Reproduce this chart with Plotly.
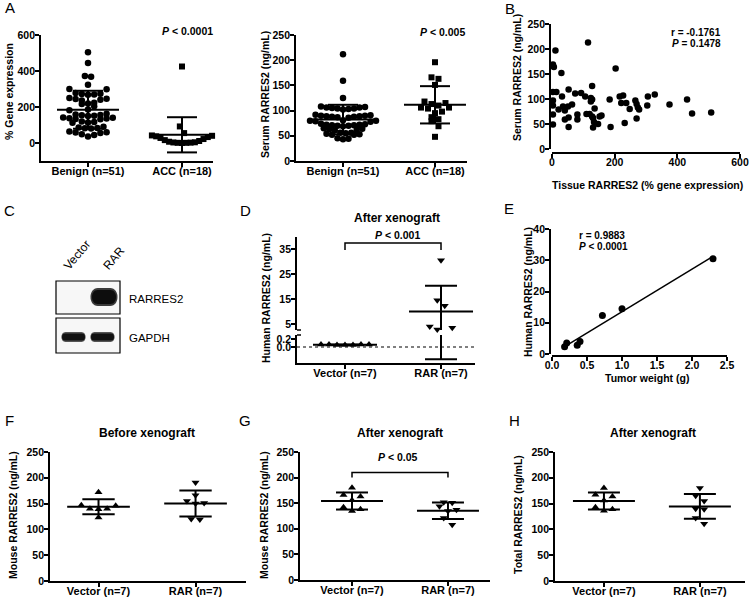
import numpy as np
import plotly.graph_objects as go

W, H = 750, 598
FONT = "Liberation Sans, Arial, sans-serif"

# ---------------- data ----------------
groups_A = ["Benign (n=51)", "ACC (n=18)"]
tissue_benign = [504, 444, 372, 368, 324, 300, 298,
                 278, 274, 272, 270, 268,
                 250, 246, 244, 240, 236,
                 224, 220, 216, 204, 186, 182,
                 162, 158, 156, 154, 152, 150,
                 142, 140, 138, 136, 134, 132,
                 120, 116, 114, 112,
                 90, 86, 84, 82, 80,
                 64, 60, 58, 56, 48, 44, 36]
tissue_acc = [425, 92, 55, 42, 40, 37, 33, 28, 22, 16, 11, 7, 4, 3, 2, 1, 1, 0]
serum_benign = [212, 159, 125,
                108, 107, 106, 106, 105, 104, 104, 103, 102,
                92, 91, 90, 90, 89, 89, 88, 88, 87, 86,
                81, 80, 80, 79, 78,
                74, 73, 72, 72, 71, 71, 70, 70, 69,
                65, 64, 63, 62, 61,
                56, 56, 55, 54, 53, 52, 52,
                45, 44, 43]
serum_acc = [196, 166, 163, 151, 118, 115, 113, 110, 106, 106, 104, 98, 95, 87, 83, 79, 69, 48]

b_tissue = [115, 11, 3, 6, 30, 203, 3, 14, 53, 32, 3, 3, 74, 93, 106, 124, 128, 124,
            128, 35, 51, 64, 21, 3, 3, 53, 81, 81, 110, 120, 128, 136, 131, 134, 152, 158,
            147, 131, 53, 184, 187, 216, 227, 221, 237, 232, 248, 266, 270, 274, 278, 270,
            304, 306, 328, 375, 431, 447, 508, 41, 41]
b_serum = [213, 197, 169, 164, 152, 161, 114, 114, 119, 105, 97, 87, 111, 112, 105, 102, 99, 95,
           126, 85, 85, 89, 79, 69, 49, 63, 69, 59, 70, 70, 65, 81, 62, 54, 65, 67,
           50, 43, 44, 99, 44, 105, 107, 92, 92, 52, 80, 97, 90, 83, 79, 61, 87, 105,
           109, 89, 99, 71, 73, 77, 59]

xeno_groups = ["Vector (n=7)", "RAR (n=7)"]
d_vector = [0.05, 0.06, 0.06, 0.05, 0.06, 0.05, 0.06]
d_rar = [30.5, 14.5, 12.3, 4.0, 3.5, 2.8, 2.3]
tumor_weight = [2.30, 1.00, 0.72, 0.40, 0.21, 0.36, 0.18]

f_vector = [172, 146, 140, 140, 139, 147, 123]
f_rar = [191, 166, 151, 150, 155, 120, 119]
g_vector = [180, 163, 166, 156, 142, 138, 135]
g_rar = [152, 151, 144, 137, 135, 121, 108]
h_vector = [180, 164, 167, 156, 143, 139, 136]
h_rar = [180, 165, 155, 140, 139, 122, 111]

# ---------------- helpers ----------------
def xd(a, b):
    return [a / W, b / W]

def yd(top, bottom):
    return [1 - bottom / H, 1 - top / H]

def PX(x):
    return x / W

def PY(y):
    return 1 - y / H

def rows(values, bin_units, s_px, xppu):
    """GraphPad-like scatter-dot layout: points within a value bin share a row,
    spread symmetrically from the centre (lowest value first)."""
    vals = np.asarray(values, float)
    order = np.argsort(vals, kind="stable")
    offs = np.zeros(len(vals))
    groups, cur, start = [], [], None
    for i in order:
        if cur and vals[i] - start >= bin_units:
            groups.append(cur)
            cur = []
        if not cur:
            start = vals[i]
        cur.append(i)
    if cur:
        groups.append(cur)
    for g in groups:
        n = len(g)
        if n % 2:
            slots = [0] + [s for k in range(1, n // 2 + 1) for s in (k, -k)]
        else:
            slots = [s for k in range(n // 2) for s in (k + 0.5, -(k + 0.5))]
        for i, sl in zip(g, slots):
            offs[i] = sl * s_px / xppu
    return offs

BOLD = dict(family=FONT, size=10.5, color="black", weight="bold")

fig = go.Figure()

def dots(xa, ya, cx, vals, xppu, symbol, size, bin_units, s_px):
    offs = rows(vals, bin_units, s_px, xppu)
    fig.add_trace(go.Scatter(x=cx + offs, y=vals, mode="markers", xaxis=xa, yaxis=ya,
                             marker=dict(symbol=symbol, size=size, color="black",
                                         line=dict(width=0)),
                             cliponaxis=False, hoverinfo="skip"))

def errbar(xa, ya, cx, vals, xppu, hm_px=31, hc_px=16):
    v = np.asarray(vals, float)
    m, s = v.mean(), v.std(ddof=1)
    hm, hc = hm_px / xppu, hc_px / xppu
    xs = [cx - hm, cx + hm, None, cx, cx, None, cx - hc, cx + hc, None, cx - hc, cx + hc]
    ys = [m, m, None, m - s, m + s, None, m + s, m + s, None, m - s, m - s]
    fig.add_trace(go.Scatter(x=xs, y=ys, mode="lines", xaxis=xa, yaxis=ya,
                             line=dict(color="black", width=2), cliponaxis=False,
                             hoverinfo="skip"))

def ann(text, x, y, size=10.5, bold=True, xanchor="center", yanchor="middle", angle=0):
    f = dict(family=FONT, size=size, color="black")
    if bold:
        f["weight"] = "bold"
    fig.add_annotation(text=text, x=PX(x), y=PY(y), xref="paper", yref="paper",
                       showarrow=False, font=f, xanchor=xanchor, yanchor=yanchor,
                       textangle=angle)

def axis_common(**kw):
    base = dict(showline=True, linecolor="black", linewidth=1.8, ticks="outside",
                ticklen=4, tickwidth=1.8, tickcolor="black", showgrid=False,
                zeroline=False, tickfont=BOLD, fixedrange=True, automargin=False)
    base.update(kw)
    return base

def xax(**kw):
    return axis_common(ticklabelstandoff=-5, **kw)

def yax(**kw):
    return axis_common(ticklabelstandoff=-2, **kw)

layout = {}

# ---- Panel A left ----
xppu_A1 = 94
layout["xaxis"] = xax(domain=xd(41, 213), range=[-0.5, 1.33], anchor="y",
                      tickvals=[0, 1], ticktext=groups_A, tickfont=dict(BOLD, size=11))
layout["yaxis"] = yax(domain=yd(35, 161), range=[-100, 600], anchor="x",
                      tickvals=[0, 200, 400, 600])
dots("x", "y", 0, tissue_benign, xppu_A1, "circle", 6.5, 33, 6.2)
dots("x", "y", 1, tissue_acc, xppu_A1, "square", 6, 45, 4.3)
errbar("x", "y", 0, tissue_benign, xppu_A1, 31, 15)
errbar("x", "y", 1, tissue_acc, xppu_A1, 31, 15)

# ---- Panel A right ----
xppu_A2 = 92
layout["xaxis2"] = xax(domain=xd(296, 467), range=[-0.511, 1.348], anchor="y2",
                       tickvals=[0, 1], ticktext=groups_A, tickfont=dict(BOLD, size=11))
layout["yaxis2"] = yax(domain=yd(35, 161), range=[0, 250], anchor="x2",
                       tickvals=[0, 50, 100, 150, 200, 250])
dots("x2", "y2", 0, serum_benign, xppu_A2, "circle", 6.5, 12, 5.5)
dots("x2", "y2", 1, serum_acc, xppu_A2, "square", 6, 12, 7)
errbar("x2", "y2", 0, serum_benign, xppu_A2, 31, 15)
errbar("x2", "y2", 1, serum_acc, xppu_A2, 31, 15)

# ---- Panel B ----
layout["xaxis3"] = xax(domain=xd(552, 740), range=[0, 600], anchor="free",
                       position=PY(153), tickvals=[0, 200, 400, 600])
layout["yaxis3"] = yax(domain=yd(24, 149), range=[0, 250], anchor="free",
                       position=PX(550), tickvals=[0, 50, 100, 150, 200, 250])
fig.add_trace(go.Scatter(x=b_tissue, y=b_serum, mode="markers", xaxis="x3", yaxis="y3",
                         marker=dict(size=6.5, color="black"), cliponaxis=False,
                         hoverinfo="skip"))

# ---- Panel D (broken axis) ----
xppu_D = 96
layout["xaxis4"] = xax(domain=xd(297, 475), range=[-0.5, 1.354], anchor="y5",
                       tickvals=[0, 1], ticktext=xeno_groups, tickfont=dict(BOLD, size=11))
layout["yaxis4"] = yax(domain=yd(237, 330), range=[2.6, 39.8], anchor="x4",
                       tickvals=[5, 15, 25, 35])
layout["yaxis5"] = yax(domain=yd(335, 363), range=[-0.4, 0.3], anchor="x4",
                       tickvals=[0.0, 0.2], tickformat=".1f")
fig.add_trace(go.Scatter(x=[-0.5, 1.354], y=[0, 0], mode="lines", xaxis="x4", yaxis="y5",
                         line=dict(color="black", width=1.2, dash="dot"), hoverinfo="skip"))
dots("x4", "y5", 0, d_vector, xppu_D, "triangle-up", 7, 0.1, 8)
errbar("x4", "y5", 0, d_vector, xppu_D, 32, 16)
dots("x4", "y4", 1, d_rar, xppu_D, "triangle-down", 7, 2.8, 7.5)
rv = np.asarray(d_rar, float)
rm, rs = rv.mean(), rv.std(ddof=1)
hm, hc = 32 / xppu_D, 16 / xppu_D
fig.add_trace(go.Scatter(x=[1 - hm, 1 + hm, None, 1, 1, None, 1 - hc, 1 + hc],
                         y=[rm, rm, None, 2.6, rm + rs, None, rm + rs, rm + rs],
                         mode="lines", xaxis="x4", yaxis="y4", cliponaxis=False,
                         line=dict(color="black", width=2), hoverinfo="skip"))
fig.add_trace(go.Scatter(x=[1, 1, None, 1 - hc, 1 + hc],
                         y=[0.3, rm - rs, None, rm - rs, rm - rs],
                         mode="lines", xaxis="x4", yaxis="y5", cliponaxis=False,
                         line=dict(color="black", width=2), hoverinfo="skip"))
fig.add_trace(go.Scatter(x=[0, 0, 1, 1], y=[34.6, 37.4, 37.4, 34.6], mode="lines",
                         xaxis="x4", yaxis="y4", line=dict(color="black", width=1.5),
                         cliponaxis=False, hoverinfo="skip"))

# ---- Panel E ----
layout["xaxis6"] = xax(domain=xd(552, 727), range=[0, 2.5], anchor="free",
                       position=PY(356), tickvals=[0, 0.5, 1.0, 1.5, 2.0, 2.5],
                       tickformat=".1f")
layout["yaxis6"] = yax(domain=yd(229, 354), range=[0, 40], anchor="free",
                       position=PX(550), tickvals=[0, 10, 20, 30, 40])
tw = np.asarray(tumor_weight)
hr = np.asarray(d_rar)
k, b0 = np.polyfit(tw, hr, 1)
xl = np.array([tw.min(), tw.max()])
fig.add_trace(go.Scatter(x=xl, y=k * xl + b0, mode="lines", xaxis="x6", yaxis="y6",
                         line=dict(color="black", width=1.5), hoverinfo="skip"))
fig.add_trace(go.Scatter(x=tumor_weight, y=d_rar, mode="markers", xaxis="x6", yaxis="y6",
                         marker=dict(size=7, color="black"), cliponaxis=False,
                         hoverinfo="skip"))

# ---- Panels F, G, H ----
def xeno_panel(n, xdom, xr, ydom, vec, rar):
    xa, ya = f"x{n}", f"y{n}"
    layout[f"xaxis{n}"] = xax(domain=xd(*xdom), range=xr, anchor=ya,
                              tickvals=[0, 1], ticktext=xeno_groups,
                              tickfont=dict(BOLD, size=11))
    layout[f"yaxis{n}"] = yax(domain=yd(*ydom), range=[0, 250], anchor=xa,
                              tickvals=[0, 50, 100, 150, 200, 250])
    dots(xa, ya, 0, vec, 96, "triangle-up", 7, 13.5, 8.5)
    dots(xa, ya, 1, rar, 96, "triangle-down", 7, 13.5, 8.5)
    errbar(xa, ya, 0, vec, 96)
    errbar(xa, ya, 1, rar, 96)

xeno_panel(7, (50, 246), [-0.5, 1.52], (452, 581), f_vector, f_rar)
xeno_panel(8, (300, 490), [-0.542, 1.438], (452, 580), g_vector, g_rar)
xeno_panel(9, (555, 745), [-0.51, 1.47], (452, 581), h_vector, h_rar)
fig.add_trace(go.Scatter(x=[0, 0, 1, 1], y=[200, 210, 210, 200], mode="lines",
                         xaxis="x8", yaxis="y8", line=dict(color="black", width=1.5),
                         cliponaxis=False, hoverinfo="skip"))

# ---------------- text ----------------
for t, x, y in [("A", 3, 8), ("B", 503, 9), ("C", 2, 210), ("D", 238, 210),
                ("E", 502, 208), ("F", 3, 420), ("G", 237, 420), ("H", 507, 420)]:
    ann(t, x, y, size=15, bold=False, xanchor="left")

ann("<i>P</i> &lt; 0.0001", 187, 31)
ann("<i>P</i> &lt; 0.005", 442, 32)
ann("r = -0.1761", 723, 32.5, size=10, xanchor="right")
ann("<i>P</i> = 0.1478", 723, 43.5, size=10, xanchor="right")
ann("After xenograft", 397, 218, size=12)
ann("<i>P</i> &lt; 0.001", 397, 235)
ann("r = 0.9883", 577, 235.5, size=10, xanchor="left")
ann("<i>P</i> &lt; 0.0001", 577, 246.5, size=10, xanchor="left")
ann("Before xenograft", 147, 433, size=12)
ann("After xenograft", 400, 433, size=12)
ann("After xenograft", 653, 433, size=12)
ann("<i>P</i> &lt; 0.05", 398, 457)
ann("Tissue RARRES2 (% gene expression)", 647, 185)
ann("Tumor weight (g)", 647, 378)

for t, x, y in [("% Gene expression", 9, 92), ("Serum RARRES2 (ng/mL)", 265, 95),
                ("Serum RARRES2 (ng/mL)", 517, 78), ("Human RARRES2 (ng/mL)", 266, 298),
                ("Human RARRES2 (ng/mL)", 528, 292), ("Mouse RARRES2 (ng/mL)", 13, 515),
                ("Mouse RARRES2 (ng/mL)", 264, 515), ("Total RARRES2 (ng/mL)", 518, 515)]:
    ann(t, x, y, angle=-90)

# ---------------- western blot (panel C) + axis break marks ----------------
def P(x, y):
    return f"{x / W:.5f},{1 - y / H:.5f}"

def band(x0, x1, y0, y1):
    r = (y1 - y0) * 0.55
    return (f"M {P(x0 + r, y0)} L {P(x1 - r, y0)} C {P(x1, y0)} {P(x1, y1)} {P(x1 - r, y1)} "
            f"L {P(x0 + r, y1)} C {P(x0, y1)} {P(x0, y0)} {P(x0 + r, y0)} Z")

shapes = []
for (y0, y1) in [(281, 314), (318, 353)]:
    shapes.append(dict(type="rect", xref="paper", yref="paper", x0=PX(56), x1=PX(120),
                       y0=PY(y1), y1=PY(y0), line=dict(color="black", width=1.2),
                       fillcolor="#f7f7f7", layer="below"))
shapes.append(dict(type="path", xref="paper", yref="paper", path=band(88, 120, 288, 306),
                   fillcolor="#3a3a3a", line=dict(width=0)))
shapes.append(dict(type="path", xref="paper", yref="paper", path=band(90, 118, 290, 304),
                   fillcolor="#0d0d0d", line=dict(width=0)))
for (x0, x1) in [(60, 87), (89, 116)]:
    shapes.append(dict(type="path", xref="paper", yref="paper", path=band(x0, x1, 332, 342),
                       fillcolor="#555555", line=dict(width=0)))
    shapes.append(dict(type="path", xref="paper", yref="paper",
                       path=band(x0 + 1, x1 - 1, 333.5, 340.5),
                       fillcolor="#111111", line=dict(width=0)))
for yb in (330, 335):
    shapes.append(dict(type="line", xref="paper", yref="paper", x0=PX(297), x1=PX(301),
                       y0=PY(yb), y1=PY(yb), line=dict(color="black", width=1.5)))

ann("RARRES2", 127, 299, size=11.5, bold=False, xanchor="left")
ann("GAPDH", 127, 338, size=11.5, bold=False, xanchor="left")
ann("Vector", 77, 255, size=12, bold=False, angle=-50)
ann("RAR", 114, 258, size=12, bold=False, angle=-50)

fig.update_layout(template="none", width=W, height=H, margin=dict(l=0, r=0, t=0, b=0, pad=0),
                  paper_bgcolor="white", plot_bgcolor="rgba(0,0,0,0)",
                  font=dict(family=FONT, color="black"),
                  showlegend=False, shapes=shapes, **layout)

fig.write_html("out.html", config={"displayModeBar": False},
               post_script="document.body.style.margin='0px';document.body.style.padding='0px';")
